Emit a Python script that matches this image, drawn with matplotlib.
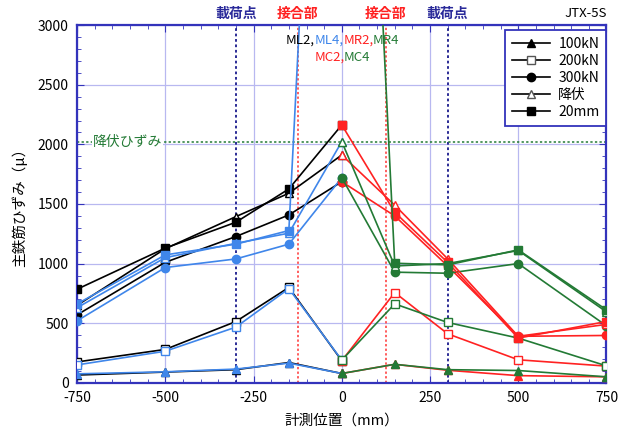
import matplotlib
matplotlib.use("Agg")
import matplotlib.pyplot as plt
from matplotlib.ticker import MultipleLocator
from matplotlib.lines import Line2D
import matplotlib.transforms as mtransforms

plt.rcParams['font.family'] = ['Noto Sans CJK JP', 'DejaVu Sans']
plt.rcParams['axes.unicode_minus'] = False

# measuring positions (mm)
x_left = [-750, -500, -300, -150]
x_center = 0
x_right = [150, 300, 500, 750]

loads = ['100kN', '200kN', '300kN', '降伏', '20mm']
mk = {'100kN': '^', '200kN': 's', '300kN': 'o', '降伏': '^', '20mm': 's'}
filled = {'100kN': True, '200kN': False, '300kN': True, '降伏': False, '20mm': True}

# left side gauges
ml2 = {'100kN': [65, 90, 110, 170],
       '200kN': [175, 280, 514, 800],
       '300kN': [570, 1011, 1227, 1408],
       '降伏': [650, 1125, 1394, 1590],
       '20mm': [785, 1130, 1347, 1626]}
ml4 = {'100kN': [75, 92, 115, 165],
       '200kN': [150, 265, 467, 790],
       '300kN': [520, 967, 1039, 1163],
       '降伏': [630, 1050, 1170, 1255],
       '20mm': [662, 1073, 1163, 1277]}
# center gauges
mc2 = {'100kN': 78, '200kN': 185, '300kN': 1687, '降伏': 1911, '20mm': 2163}
mc4 = {'100kN': 78, '200kN': 190, '300kN': 1721, '降伏': 2023, '20mm': 10000}
# right side gauges
mr2 = {'100kN': [155, 105, 60, 50],
       '200kN': [757, 411, 193, 140],
       '300kN': [1400, 980, 390, 397],
       '降伏': [1490, 1040, 390, 490],
       '20mm': [1430, 1010, 375, 514]}
mr4 = {'100kN': [155, 110, 103, 50],
       '200kN': [662, 506, 375, 142],
       '300kN': [928, 919, 1000, 478],
       '降伏': [980, 1000, 1110, 595],
       '20mm': [1003, 989, 1115, 612]}

yield_strain = 2020

c_black = '#000000'
c_blue = '#3f86ea'
c_red = '#ff2222'
c_green = '#237a35'
c_axis = '#3333bb'
c_grid = '#b8b8f0'


def draw(ax, xs, ys, color, load, z):
    face = color if filled[load] else 'white'
    ax.plot(xs, ys, color=color, lw=1.2, marker=mk[load], ms=6,
            mfc=face, mec=color, mew=1.0, zorder=z, clip_on=True)


fig = plt.figure(figsize=(6.22, 4.34), dpi=100)
ax = fig.add_axes([0.124, 0.118, 0.851, 0.824])

ax.set_xlim(-750, 750)
ax.set_ylim(0, 3000)

for ld in loads:
    draw(ax, x_left + [x_center], ml2[ld] + [mc2[ld]], c_black, ld, 3)
    draw(ax, x_left + [x_center], ml4[ld] + [mc4[ld]], c_blue, ld, 3)
for ld in loads:
    draw(ax, [x_center] + x_right, [mc2[ld]] + mr2[ld], c_red, ld, 4)
    draw(ax, [x_center] + x_right, [mc4[ld]] + mr4[ld], c_green, ld, 4)

# reference lines
for xv in (-300, 300):
    ax.axvline(xv, color='#1a1a8c', ls=(0, (1.5, 1.5)), lw=1.3, zorder=2)
for xv in (-125, 125):
    ax.axvline(xv, color='#ff3333', ls=(0, (1.5, 1.5)), lw=1.1, zorder=2)
ax.axhline(yield_strain, color=c_green, ls=(0, (1.5, 1.5)), lw=1.1, zorder=2)
ax.text(-705, yield_strain, '降伏ひずみ', color=c_green, fontsize=10,
        va='center', ha='left', zorder=5,
        bbox=dict(facecolor='white', edgecolor='none', pad=0.5))

# axes styling
ax.xaxis.set_major_locator(MultipleLocator(250))
ax.xaxis.set_minor_locator(MultipleLocator(50))
ax.yaxis.set_major_locator(MultipleLocator(500))
ax.yaxis.set_minor_locator(MultipleLocator(100))
ax.grid(True, which='major', color=c_grid, lw=0.9, zorder=0)
ax.set_axisbelow(True)
for sp in ax.spines.values():
    sp.set_color(c_axis)
    sp.set_linewidth(1.6)
ax.tick_params(which='both', direction='in', top=True, right=True,
               color=c_axis, labelsize=10, pad=6)
ax.tick_params(which='major', length=5)
ax.tick_params(which='minor', length=3)

ax.set_xlabel('計測位置（mm）', fontsize=10.5, labelpad=6)
ax.set_ylabel('主鉄筋ひずみ（μ）', fontsize=10.5, labelpad=8)

# labels above the plot
trans = mtransforms.blended_transform_factory(ax.transData, ax.transAxes)
for xv in (-300, 300):
    ax.text(xv, 1.032, '載荷点', color='#2a2a9a', fontsize=10,
            ha='center', va='center', transform=trans, fontweight='bold')
for xv in (-125, 125):
    ax.text(xv, 1.032, '接合部', color='#ff2020', fontsize=10,
            ha='center', va='center', transform=trans, fontweight='bold')
ax.text(1.0, 1.032, 'JTX-5S', fontsize=9.5, ha='right', va='center',
        transform=ax.transAxes)

# gauge names
for txt, xv, col in [('ML2,', -160, c_black), ('ML4,', -78, c_blue),
                     ('MR2,', 4, c_red), ('MR4', 86, c_green)]:
    ax.text(xv, 2875, txt, color=col, fontsize=9.5, ha='left', va='center',
            zorder=6)
for txt, xv, col in [('MC2,', -78, c_red), ('MC4', 4, c_green)]:
    ax.text(xv, 2730, txt, color=col, fontsize=9.5, ha='left', va='center',
            zorder=6)

# legend
handles = []
for ld in loads:
    handles.append(Line2D([], [], color='black', lw=1.2, marker=mk[ld], ms=6,
                          mfc='black' if filled[ld] else 'white',
                          mec='black' if filled[ld] else '#555555'))
leg = ax.legend(handles, loads, loc='upper right', fontsize=10,
                bbox_to_anchor=(1.0, 0.986), fancybox=False, framealpha=1,
                handlelength=2.7, handletextpad=0.6, borderpad=0.5,
                labelspacing=0.22, borderaxespad=0.0)
leg.get_frame().set_edgecolor(c_axis)
leg.get_frame().set_linewidth(1.3)
leg.set_zorder(10)

fig.savefig('out.png', dpi=100)
